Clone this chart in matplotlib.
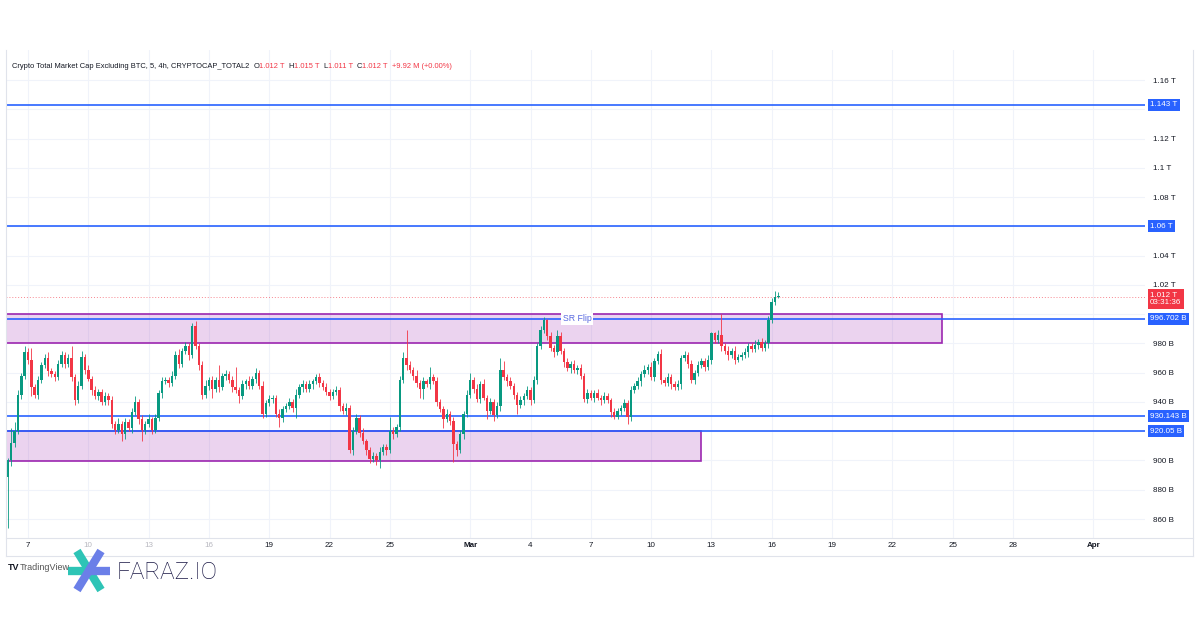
import matplotlib
matplotlib.use("Agg")
import matplotlib.pyplot as plt
from matplotlib.patches import Rectangle
from matplotlib.lines import Line2D
from matplotlib.text import Annotation

plt.rcParams["font.family"] = ["Liberation Sans", "DejaVu Sans"]

# 4h candles, in billions, first candle = Feb 6 00:00
first_open = 889
closes = [
    900, 912, 920, 945, 958, 974, 969, 950, 945, 955,
    965, 970, 961, 959, 957, 966, 972, 966, 970, 957,
    941, 951, 971, 962, 956, 948, 944, 947, 940, 944,
    941, 925, 921, 925, 918, 926, 922, 933, 940, 928,
    921, 925, 928, 921, 929, 946, 954, 955, 953, 958,
    972, 966, 975, 978, 972, 992, 978, 965, 945, 951,
    955, 949, 955, 950, 958, 959, 955, 950, 948, 944,
    952, 954, 951, 956, 960, 951, 932, 939, 942, 943,
    932, 929, 935, 937, 940, 936, 945, 950, 952, 949,
    952, 954, 957, 953, 950, 947, 944, 947, 948, 937,
    934, 936, 907, 920, 929, 919, 913, 907, 901, 903,
    900, 906, 909, 907, 920, 918, 923, 955, 970, 965,
    962, 958, 953, 949, 954, 952, 957, 954, 940, 935,
    928, 932, 927, 911, 907, 918, 932, 945, 955, 949,
    942, 952, 943, 934, 940, 931, 937, 962, 957, 954,
    951, 945, 938, 941, 944, 948, 941, 955, 978, 989,
    996, 985, 977, 974, 985, 975, 967, 963, 966, 962,
    963, 958, 942, 946, 943, 946, 943, 941, 944, 941,
    933, 930, 934, 936, 939, 930, 948, 951, 954, 959,
    962, 964, 957, 968, 973, 955, 953, 957, 952, 950,
    952, 970, 972, 966, 955, 960, 965, 968, 964, 969,
    987, 982, 986, 978, 975, 972, 975, 969, 971, 972,
    974, 978, 976, 979, 981, 977, 980, 996, 1008, 1012,
    1012,
]
# wick length above / below the body
wick_hi = [
    2, 10, 6, 3, 2, 4, 3, 8, 2, 3,
    2, 3, 4, 2, 2, 3, 3, 2, 3, 8,
    2, 3, 4, 2, 3, 2, 3, 2, 2, 3,
    2, 3, 2, 4, 2, 3, 2, 3, 4, 2,
    3, 2, 4, 2, 3, 2, 3, 2, 2, 3,
    3, 4, 2, 3, 2, 2, 3, 2, 3, 4,
    2, 3, 2, 10, 2, 3, 2, 3, 14, 2,
    3, 2, 4, 2, 3, 2, 3, 2, 3, 2,
    2, 3, 2, 2, 3, 2, 4, 2, 3, 2,
    3, 2, 2, 3, 2, 3, 2, 2, 3, 2,
    2, 3, 2, 3, 3, 2, 3, 2, 2, 3,
    2, 3, 2, 2, 10, 3, 2, 3, 4, 19,
    3, 2, 4, 2, 3, 2, 7, 2, 3, 2,
    2, 3, 2, 3, 2, 3, 2, 3, 5, 2,
    3, 2, 4, 2, 3, 2, 3, 8, 6, 2,
    3, 2, 2, 3, 2, 3, 2, 3, 2, 3,
    2, 1, 3, 2, 4, 3, 2, 3, 2, 3,
    2, 3, 2, 3, 2, 2, 3, 2, 3, 2,
    2, 3, 2, 2, 3, 2, 3, 2, 3, 2,
    3, 2, 3, 2, 2, 3, 2, 3, 2, 2,
    3, 2, 3, 2, 3, 2, 3, 2, 2, 3,
    1, 1, 3, 14, 2, 3, 2, 3, 2, 2,
    3, 2, 2, 3, 2, 3, 2, 3, 3, 4,
    3,
]
wick_lo = [
    35, 4, 3, 2, 3, 2, 3, 6, 2, 3,
    2, 2, 3, 2, 3, 2, 2, 3, 2, 3,
    3, 2, 2, 3, 2, 3, 2, 3, 2, 2,
    3, 3, 3, 2, 5, 3, 2, 3, 2, 3,
    8, 3, 2, 3, 2, 2, 3, 2, 3, 2,
    2, 3, 2, 2, 3, 2, 2, 3, 3, 2,
    3, 6, 2, 3, 2, 3, 2, 3, 2, 5,
    2, 3, 2, 2, 3, 2, 3, 2, 2, 3,
    2, 6, 3, 2, 2, 3, 7, 2, 3, 2,
    2, 3, 2, 3, 2, 2, 3, 2, 2, 3,
    2, 3, 2, 3, 2, 3, 2, 3, 3, 2,
    3, 5, 2, 3, 2, 3, 2, 3, 2, 3,
    2, 3, 3, 6, 7, 2, 3, 2, 3, 2,
    6, 2, 3, 12, 4, 2, 3, 2, 2, 3,
    2, 3, 2, 6, 2, 4, 2, 3, 2, 3,
    2, 3, 6, 2, 3, 2, 3, 2, 3, 2,
    2, 3, 2, 3, 2, 2, 3, 2, 3, 2,
    3, 2, 2, 3, 2, 3, 2, 3, 2, 2,
    3, 2, 2, 3, 2, 5, 3, 2, 2, 3,
    2, 3, 2, 3, 2, 3, 2, 2, 3, 2,
    2, 3, 2, 3, 2, 3, 2, 2, 3, 2,
    3, 2, 2, 3, 2, 3, 2, 3, 2, 2,
    2, 3, 2, 2, 3, 2, 2, 3, 2, 2,
    1,
]

levels = [1143, 1060, 996.702, 930.143, 920.05]
level_labels = ["1.143 T", "1.06 T", "996.702 B", "930.143 B", "920.05 B"]
last_price = 1012
# zones: (start day, end day, low, high), day 0 = Feb 1
zones = [(4.0, 51.47, 980.5, 1000.3), (4.0, 39.5, 899.8, 920.4)]

date_pos = [6, 9, 12, 15, 18, 21, 24, 28, 31, 34, 37, 40, 43, 46, 49, 52, 55, 59]
date_lab = ["7", "10", "13", "16", "19", "22", "25", "Mar", "4", "7", "10",
            "13", "16", "19", "22", "25", "28", "Apr"]
price_ticks = list(range(860, 1161, 20))
hidden_ticks = [920, 1000, 1060, 1140]  # covered by the price labels

header = [("Crypto Total Market Cap Excluding BTC, 5, 4h, CRYPTOCAP_TOTAL2", "#131722", 0),
          ("O", "#131722", 4), ("1.012 T", "#F23645", 0),
          ("H", "#131722", 4), ("1.015 T", "#F23645", 0),
          ("L", "#131722", 4), ("1.011 T", "#F23645", 0),
          ("C", "#131722", 4), ("1.012 T", "#F23645", 0),
          ("+9.92 M (+0.00%)", "#F23645", 4)]

UP = "#089981"
DOWN = "#F23645"
BLUE = "#2962FF"

W, H = 1200, 630
fig = plt.figure(figsize=(12, 6.3), dpi=100)
L_PX, R_PX, T_PX, B_PX = 6, 1145, 50, 538
ax = fig.add_axes([L_PX / W, 1 - B_PX / H, (R_PX - L_PX) / W, (B_PX - T_PX) / H])

ax.set_xlim((L_PX + 92.6) / 20.1, (R_PX + 92.6) / 20.1)
ax.set_ylim(860 - 19 / 1.4633, 860 + 469 / 1.4633)

def fmt(v):
    if v in hidden_ticks:
        return ""
    if v < 1000:
        return "%d B" % v
    return "%g T" % (v / 1000)

ax.set_yticks(price_ticks)
ax.set_yticklabels([fmt(v) for v in price_ticks])
ax.yaxis.tick_right()
ax.tick_params(axis="y", length=0, pad=6, labelsize=5.8, labelcolor="#131722")
ax.set_xticks(date_pos)
ax.set_xticklabels(date_lab)
ax.tick_params(axis="x", length=0, pad=3, labelsize=5.8, labelcolor="#131722")
for t in ax.get_xticklabels():
    if t.get_text() in ("Mar", "Apr"):
        t.set_fontweight("bold")
for t in ax.get_xticklabels()[1:4]:
    t.set_color("#b8b8c0")
ax.grid(True, color="#f0f3fa", lw=0.8)
ax.set_axisbelow(True)
for s in ax.spines.values():
    s.set_visible(False)

# zones
for xa, xb, lo, hi in zones:
    ax.add_patch(Rectangle((xa, lo), xb - xa, hi - lo, facecolor=(0.612, 0.153, 0.69, 0.2),
                           edgecolor="#9c27b0", lw=1.2, zorder=1))

# levels
for lv in levels:
    ax.axhline(lv, color=BLUE, lw=1.2, zorder=2)
ax.axhline(last_price, color=DOWN, lw=0.7, ls=(0, (1, 2)), alpha=0.6, zorder=2)
ax.text((577 + 92.6) / 20.1, 996.702, "SR Flip", color="#5a6ae0", fontsize=6.3,
        ha="center", va="center", zorder=4,
        bbox=dict(facecolor="white", edgecolor="none", pad=1.0))

# candles
opens = [first_open] + closes[:-1]
xs = [5 + i / 6 for i in range(len(closes))]
for x, o, c, wh, wl in zip(xs, opens, closes, wick_hi, wick_lo):
    col = UP if c >= o else DOWN
    top, bot = max(o, c), min(o, c)
    ax.vlines(x, bot - wl, top + wh, color=col, lw=0.6, zorder=3)
    ax.bar(x, max(top - bot, 0.6), bottom=bot, width=0.12, color=col, lw=0, zorder=3)

# price scale labels
tr = ax.get_yaxis_transform()
lx = (1150 - L_PX) / (R_PX - L_PX)
for lv, lab in zip(levels, level_labels):
    ax.text(lx, lv, lab, transform=tr, color="white", fontsize=5.8, ha="left", va="center",
            zorder=6, clip_on=False,
            bbox=dict(facecolor=BLUE, edgecolor="none", pad=1.8))
ax.text(lx, last_price - 1.8, "1.012 T\n03:31:36", transform=tr, color="white", fontsize=5.8,
        ha="left", va="center", linespacing=1.1, zorder=6, clip_on=False,
        bbox=dict(facecolor=DOWN, edgecolor="none", pad=1.8))

# pane borders
border = "#e0e3eb"
fig.add_artist(Line2D([L_PX / W, 1193 / W], [1 - 538 / H, 1 - 538 / H], color=border, lw=0.8))
fig.add_artist(Line2D([L_PX / W, 1193 / W], [1 - 556 / H, 1 - 556 / H], color=border, lw=0.8))
fig.add_artist(Line2D([1193 / W, 1193 / W], [1 - 556 / H, 1 - 50 / H], color=border, lw=0.8))
fig.add_artist(Line2D([L_PX / W, L_PX / W], [1 - 556 / H, 1 - 50 / H], color=border, lw=0.8))

# header, each piece placed right after the previous one
anchor = fig.text(12 / W, 1 - 67 / H, header[0][0], color=header[0][1], fontsize=5.4,
                  va="center", ha="left")
for txt, col, gap in header[1:]:
    anchor = fig.add_artist(Annotation(
        txt, xy=(1, 0.5), xycoords=anchor, xytext=(gap * 0.72, 0), textcoords="offset points",
        color=col, fontsize=5.4, va="center", ha="left"))

# watermarks
fig.text(8 / W, 1 - 568 / H, "TV", fontsize=6.5, fontweight="bold", color="#131722", va="center")
fig.text(20 / W, 1 - 568 / H, "TradingView", fontsize=6.5, color="#555", va="center")

def seg(p, q, col, lw=6):
    fig.add_artist(Line2D([p[0] / W, q[0] / W], [1 - p[1] / H, 1 - q[1] / H],
                          color=col, lw=lw, solid_capstyle="butt"))

seg((68, 571), (89, 571), "#2ec4b6")
seg((77, 551), (101, 590), "#2ec4b6")
seg((89, 571), (110, 571), "#6b7fe8")
seg((101, 551), (77, 590), "#6b7fe8")
fig.text(117 / W, 1 - 572 / H, "FARAZ.IO", fontsize=17.5, color="#1a1845", va="center",
         family="Roboto", fontweight="light")

fig.savefig("out.png", dpi=100, facecolor="white")
